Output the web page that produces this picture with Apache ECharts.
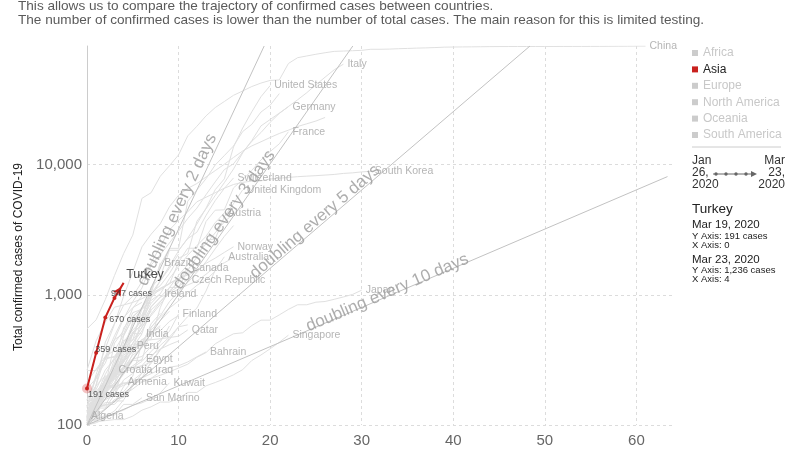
<!DOCTYPE html>
<html>
<head>
<meta charset="utf-8">
<title>Total confirmed cases of COVID-19</title>
<script src="https://cdn.jsdelivr.net/npm/echarts@6.0.0/dist/echarts.min.js"></script>
<style>
html,body{margin:0;padding:0;background:#fff;}
#chart{width:800px;height:450px;}
</style>
</head>
<body>
<div id="chart"></div>
<script>
const FONT = '"Liberation Sans", Arial, Helvetica, sans-serif';
const RED = '#c9211e';

// ---------- texts ----------
const introLines = [
  'This allows us to compare the trajectory of confirmed cases between countries.',
  'The number of confirmed cases is lower than the number of total cases. The main reason for this is limited testing.'
];
const yAxisTitle = 'Total confirmed cases of COVID-19';
const xTicks = [0, 10, 20, 30, 40, 50, 60];
const yTicks = [100, 1000, 10000];
const continents = ['Africa', 'Asia', 'Europe', 'North America', 'Oceania', 'South America'];
const activeContinent = 'Asia';
const timeStart = ['Jan', '26,', '2020'];
const timeEnd = ['Mar', '23,', '2020'];

// ---------- highlighted country ----------
const highlightName = 'Turkey';
const turkeyDays = [0, 1, 2, 3, 4];
const turkey = [191, 359, 670, 947, 1236];
const turkeyDates = ['Mar 19, 2020', 'Mar 20, 2020', 'Mar 21, 2020', 'Mar 22, 2020', 'Mar 23, 2020'];

// ---------- doubling reference lines ----------
const doublingNames = ['doubling every 2 days', 'doubling every 3 days', 'doubling every 5 days', 'doubling every 10 days'];
const doubling2 = [[0, 100], [19.35, 81600]];
const doubling3 = [[0, 100], [29.03, 81600]];
const doubling5 = [[0, 100], [48.38, 81600]];
const doubling10 = [[0, 100], [63.4, 8100]];
const doublingLabelAt = [[9.85, 4500], [14.97, 3775], [24.9, 3640], [32.8, 1036]];

// ---------- countries: confirmed cases by day since 100th case ----------
const china = [548,643,920,1406,2075,2877,5509,6087,8141,9802,11891,16630,19716,23707,27440,30587,34110,36814,39829,42354,44386,44759,59895,66358,68413,70513,72434,74211,74619,75077,75550,77001,77022,77241,77754,78166,78600,78928,79356,79932,80136,80261,80386,80537,80690,80770,80823,80860,80887,80921,80932,80945,80977,81003,81033,81058,81102,81156,81250,81305,81435,81498];
const italy = [155,229,322,453,655,888,1128,1694,2036,2502,3089,3858,4636,5883,7375,9172,10149,12462,15113,17660,21157,24747,27980,31506,35713,41035,47021,53578,59138];
const unitedStates = [118,149,217,262,402,518,583,959,1281,1663,2179,2727,3499,4632,6421,7786,13680,19101,25493,33276,40500];
const germany = [130,159,196,262,482,670,799,1040,1176,1457,1908,2078,3675,4585,5795,7272,9257,12327,15320,19848,22213,24873,27900];
const france = [100,130,191,204,285,377,653,949,1126,1209,1784,2281,2281,3661,4469,4499,6633,7652,9043,10871,12612,14459,17900];
const southKorea = [104,204,433,602,833,977,1261,1766,2337,3150,3736,4335,5186,5621,6088,6593,7041,7314,7478,7513,7755,7869,7979,8086,8162,8236,8320,8413,8565,8652,8799,8897];
const switzerland = [214,268,337,374,491,652,652,1139,1359,2200,2200,2700,3028,4075,5294,6575,7900];
const unitedKingdom = [115,163,206,273,321,382,456,456,798,1140,1140,1543,1950,2626,2689,3983,5018,6400];
const austria = [104,131,182,246,302,504,655,860,1018,1332,1646,2013,2388,2814,3582,4270];
const norway = [108,147,176,205,400,598,702,996,1090,1221,1333,1463,1550,1746,1914,2118,2340];
const australia = [101,112,116,128,156,200,250,297,377,452,568,681,791,1071,1549,1960];
const brazil = [151,162,200,321,372,621,793,1021,1760];
const canada = [108,138,176,252,341,424,569,690,846,1048,1277,1610];
const czechRepublic = [116,141,189,298,383,450,560,765,889,1047,1161,1306];
const ireland = [129,169,223,292,557,683,785,906,1017];
const finland = [109,155,225,244,277,321,336,400,450,523,714];
const qatar = [262,262,320,337,401,401,439,452,460,470,481,537];
const india = [142,156,194,244,330,396,500];
const peru = [117,145,234,234,318,404];
const bahrain = [109,110,195,195,210,214,214,228,256,278,285,305,334,364];
const egypt = [126,150,196,196,256,285,321];
const croatia = [105,128,206,263];
const iraq = [124,154,164,192,208,214,233,263];
const armenia = [115,136,160,194,214];
const kuwait = [100,104,112,123,130,142,148,159,176,211];
const sanMarino = [109,109,119,119,144,144,162];
const algeria = [117];
const japan = [105,132,144,144,170,189,214,228,241,256,274,293,331,360,420,461,502,511,581,639,639,701,773,839,839,878,889,924,963,1007,1086];
const singapore = [102,106,108,110,110,117,130,138,150,150,160,178,178,200,212,226,243,266,313,345,385,432,490];

// unlabeled background countries
const spain = [120,165,222,259,400,500,673,1073,1695,2277,2277,5232,6391,7798,9942,11748,13910,17963,20410,25374,28603,35136];
const iran = [139,245,388,593,978,1501,2336,2922,3513,4747,5823,6566,7161,8042,9000,10075,11364,12729,13938,14991,16169,17361,18407,19644,20610,21638,23049];
const netherlands = [128,188,265,321,382,503,503,804,959,1135,1413,1705,2051,2460,2994,3631,4204,4749];
const belgium = [109,169,200,239,267,314,314,559,689,886,1058,1243,1486,1795,2257,2815,3401];
const sweden = [137,161,203,248,355,500,599,814,961,1022,1103,1190,1279,1439,1639,1763,1934];
const denmark = [264,444,617,804,836,875,933,1024,1115,1225,1337,1420,1514];
const portugal = [112,169,245,331,448,448,785,1020,1280,1600,2060];
const israel = [126,161,200,250,304,427,529,712,883,1071,1238];
const malaysia = [117,129,149,149,197,238,428,566,673,790,900,1030,1183,1306,1518];
const greece = [190,228,331,331,387,418,418,495,530,624,695];
const luxembourg = [140,203,335,484,670,798,875];
const chile = [156,201,238,238,434,537,632,746];
const poland = [103,119,177,238,251,355,425,536,634,749];
const ecuador = [111,168,199,426,532,789,981];
const pakistan = [136,236,299,454,501,730,776,875];
const thailand = [114,147,177,212,272,322,411,599,721];
const indonesia = [117,134,172,227,311,369,450,514,579];
const philippines = [111,140,142,187,202,217,230,307,380,462];
const saudiArabia = [103,118,171,171,274,344,392,511,562];
const iceland = [103,134,156,171,180,220,250,330,409,473,568,588];
const slovenia = [141,181,219,253,275,275,286,341,383,414,442];
const estonia = [115,171,205,225,258,267,283,306,326];
const romania = [123,131,158,184,260,277,308,367,433,576];
const mexico = [118,164,203,251,316];
const panama = [109,137,200,200,245,313];
const southAfrica = [116,150,202,240,274,402];
const russia = [114,147,199,253,306,367,438];
const serbia = [103,135,135,171,222,249];
const argentina = [128,158,225,266];
const colombia = [108,145,196,231,277];
const lebanon = [110,120,133,157,163,206,230,248,267];
const unitedArabEmirates = [113,140,140,153,153];

const labeledCountries = [
  ['China', 'Asia', china], ['Italy', 'Europe', italy], ['United States', 'North America', unitedStates],
  ['Germany', 'Europe', germany], ['France', 'Europe', france], ['South Korea', 'Asia', southKorea],
  ['Switzerland', 'Europe', switzerland], ['United Kingdom', 'Europe', unitedKingdom], ['Austria', 'Europe', austria],
  ['Norway', 'Europe', norway], ['Australia', 'Oceania', australia], ['Brazil', 'South America', brazil],
  ['Canada', 'North America', canada], ['Czech Republic', 'Europe', czechRepublic], ['Ireland', 'Europe', ireland],
  ['Finland', 'Europe', finland], ['Qatar', 'Asia', qatar], ['India', 'Asia', india], ['Peru', 'South America', peru],
  ['Bahrain', 'Asia', bahrain], ['Egypt', 'Africa', egypt], ['Croatia', 'Europe', croatia], ['Iraq', 'Asia', iraq],
  ['Armenia', 'Asia', armenia], ['Kuwait', 'Asia', kuwait], ['San Marino', 'Europe', sanMarino],
  ['Algeria', 'Africa', algeria], ['Japan', 'Asia', japan], ['Singapore', 'Asia', singapore]
];
const backgroundCountries = [
  ['Europe', spain], ['Asia', iran], ['Europe', netherlands], ['Europe', belgium], ['Europe', sweden],
  ['Europe', denmark], ['Europe', portugal], ['Asia', israel], ['Asia', malaysia], ['Europe', greece],
  ['Europe', luxembourg], ['South America', chile], ['Europe', poland], ['South America', ecuador],
  ['Asia', pakistan], ['Asia', thailand], ['Asia', indonesia], ['Asia', philippines], ['Asia', saudiArabia],
  ['Europe', iceland], ['Europe', slovenia], ['Europe', estonia], ['Europe', romania], ['North America', mexico],
  ['North America', panama], ['Africa', southAfrica], ['Europe', russia], ['Europe', serbia],
  ['South America', argentina], ['South America', colombia], ['Asia', lebanon], ['Asia', unitedArabEmirates]
];

// ---------- build ----------
const toPairs = vals => vals.map((v, i) => [i, v]);
const fmt = v => Math.round(v).toLocaleString('en-US');

function greyLine(cont, vals) {
  return {
    type: 'line', name: cont, data: toPairs(vals), symbol: 'none', showSymbol: false,
    silent: true, animation: false, z: 1,
    lineStyle: { color: '#e0e0e0', width: 1 }, itemStyle: { color: '#e0e0e0' },
    emphasis: { disabled: true }
  };
}

const series = [];
backgroundCountries.forEach(([c, v]) => series.push(greyLine(c, v)));
labeledCountries.forEach(([n, c, v]) => series.push(greyLine(c, v)));

const doublingLines = [doubling2, doubling3, doubling5, doubling10];
doublingLines.forEach(d => series.push({
  type: 'line', data: d, symbol: 'none', silent: true, animation: false, z: 2,
  lineStyle: { color: '#c2c2c2', width: 1 }, emphasis: { disabled: true }
}));
const doublingAngles = [64.9, 55.0, 40.6, 23.2];
series.push({
  type: 'scatter', silent: true, animation: false, z: 3, symbolSize: 0,
  data: doublingLabelAt.map((p, i) => ({
    value: p,
    label: { rotate: doublingAngles[i], formatter: doublingNames[i] }
  })),
  label: { show: true, position: 'inside', fontSize: 17, color: '#999', fontFamily: FONT }
});

// country name labels at line ends
series.push({
  type: 'scatter', silent: true, animation: false, z: 4, symbolSize: 0,
  data: labeledCountries.map(([n, c, v]) => [v.length - 1, v[v.length - 1], n]),
  label: { show: true, position: 'right', distance: 4, formatter: p => p.value[2], fontSize: 10.5, color: '#a3a3a3', fontFamily: FONT }
});

// highlighted country
const last = turkey.length - 1;
series.push({
  type: 'scatter', silent: true, animation: false, z: 9, symbolSize: 10,
  data: [[turkeyDays[0], turkey[0]]],
  itemStyle: { color: 'rgba(214,40,40,0.35)' }
});
series.push({
  type: 'line', name: 'Asia', silent: true, animation: false, z: 10, showSymbol: true,
  data: turkeyDays.map((d, i) => ({
    value: [d, turkey[i]],
    symbol: i === last ? 'arrow' : 'circle',
    symbolSize: i === last ? [7, 9] : 4,
    symbolRotate: i === last ? -31.4 : 0,
    symbolOffset: i === last ? [-2.3, 3.8] : [0, 0]
  })),
  lineStyle: { color: RED, width: 2 }, itemStyle: { color: RED, borderWidth: 0 },
  emphasis: { disabled: true }
});
const turkeyLabelOffsets = [[1, 6], [-1, -3], [4, 2], [-3.5, -4], [2.5, -8]];
series.push({
  type: 'scatter', silent: true, animation: false, z: 11, symbolSize: 0,
  data: turkeyDays.map((d, i) => ({
    value: [d, turkey[i]],
    label: {
      offset: turkeyLabelOffsets[i],
      formatter: i === last ? highlightName : fmt(turkey[i]) + ' cases',
      fontSize: i === last ? 12.5 : 9,
      color: i === last ? '#222' : '#333'
    }
  })),
  label: { show: true, position: 'right', distance: 0, fontFamily: FONT }
});

const txt = (x, y, text, size, fill, extra, props) => Object.assign({
  type: 'text', x: x, y: y, silent: true,
  style: Object.assign({ text: text, font: size + 'px ' + FONT, fill: fill, verticalAlign: 'middle' }, extra || {})
}, props || {});

const graphic = [
  txt(18, 6, introLines[0], 13.6, '#5a5a5a'),
  txt(18, 20.5, introLines[1], 13.6, '#5a5a5a'),
  txt(19, 257, yAxisTitle, 12, '#222', { align: 'center' }, { rotation: Math.PI / 2 }),
  { type: 'line', silent: true, shape: { x1: 692, y1: 147, x2: 781, y2: 147 }, style: { stroke: '#ccc', lineWidth: 1 } },
  txt(692, 155, timeStart.join('\n'), 12, '#333', { verticalAlign: 'top', lineHeight: 12 }),
  txt(785, 155, timeEnd.join('\n'), 12, '#333', { verticalAlign: 'top', lineHeight: 12, align: 'right' }),
  { type: 'line', silent: true, shape: { x1: 713, y1: 174, x2: 753, y2: 174 }, style: { stroke: '#666', lineWidth: 1 } },
  { type: 'circle', silent: true, shape: { cx: 716, cy: 174, r: 1.7 }, style: { fill: '#666' } },
  { type: 'circle', silent: true, shape: { cx: 726, cy: 174, r: 1.7 }, style: { fill: '#666' } },
  { type: 'circle', silent: true, shape: { cx: 736, cy: 174, r: 1.7 }, style: { fill: '#666' } },
  { type: 'circle', silent: true, shape: { cx: 746, cy: 174, r: 1.7 }, style: { fill: '#666' } },
  { type: 'polygon', silent: true, shape: { points: [[751, 171], [757, 174], [751, 177]] }, style: { fill: '#666' } },
  txt(692, 209, highlightName, 13.5, '#222'),
  txt(692, 225, turkeyDates[0], 11.5, '#222'),
  txt(692, 236.5, 'Y Axis: ' + fmt(turkey[0]) + ' cases', 9.5, '#222'),
  txt(692, 245.5, 'X Axis: ' + turkeyDays[0], 9.5, '#222'),
  txt(692, 260, turkeyDates[last], 11.5, '#222'),
  txt(692, 270.5, 'Y Axis: ' + fmt(turkey[last]) + ' cases', 9.5, '#222'),
  txt(692, 279.5, 'X Axis: ' + turkeyDays[last], 9.5, '#222')
];

const chart = echarts.init(document.getElementById('chart'), null, { renderer: 'canvas' });
chart.setOption({
  animation: false,
  backgroundColor: '#fff',
  textStyle: { fontFamily: FONT },
  grid: { left: 87, right: 127, top: 46, bottom: 25, containLabel: false },
  legend: {
    orient: 'vertical', left: 687, top: 42, icon: 'rect', itemWidth: 6, itemHeight: 6, itemGap: 4.4,
    selectedMode: false,
    textStyle: { fontSize: 12, fontFamily: FONT, color: '#c8c8c8' },
    data: continents.map(c => ({
      name: c,
      itemStyle: { color: c === activeContinent ? RED : '#cccccc', borderWidth: 0 },
      textStyle: { color: c === activeContinent ? '#222' : '#c8c8c8' }
    }))
  },
  xAxis: {
    type: 'value', min: 0, max: 64, interval: 10,
    axisLine: { show: false }, axisTick: { show: false },
    axisLabel: { color: '#666', fontSize: 15, margin: 8, showMaxLabel: false,
      formatter: v => xTicks.includes(v) ? String(v) : '' },
    splitLine: { show: true, showMaxLine: false, lineStyle: { color: '#dcdcdc', type: [3, 3] } }
  },
  yAxis: {
    type: 'log', logBase: 10, min: 100, max: 81600,
    axisLine: { show: true, lineStyle: { color: '#ccc', width: 1 } }, axisTick: { show: false },
    axisLabel: { color: '#666', fontSize: 15, margin: 5, showMaxLabel: false,
      formatter: v => yTicks.includes(Math.round(v)) ? fmt(v) : '' },
    splitLine: { show: true, showMaxLine: false, lineStyle: { color: '#dcdcdc', type: [3, 3] } }
  },
  graphic: graphic,
  series: series
});
</script>
</body>
</html>
